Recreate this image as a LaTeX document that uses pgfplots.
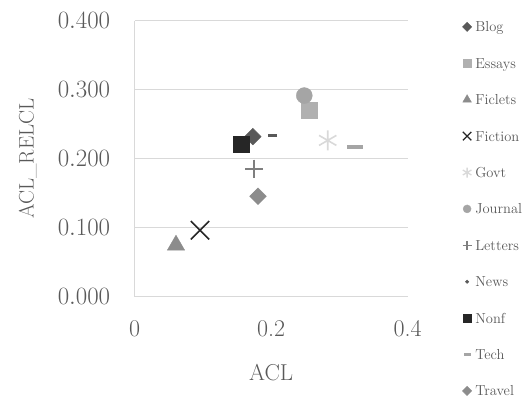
\documentclass[border=0pt]{standalone}
\usepackage{pgfplots}
\pgfplotsset{compat=1.18}

\definecolor{txt}{HTML}{595959}
\definecolor{gridc}{HTML}{D9D9D9}
\definecolor{cBlog}{HTML}{595959}
\definecolor{cEssays}{HTML}{B0B0B0}
\definecolor{cFiclets}{HTML}{8C8C8C}
\definecolor{cFiction}{HTML}{262626}
\definecolor{cGovt}{HTML}{D9D9D9}
\definecolor{cJournal}{HTML}{A5A5A5}
\definecolor{cLetters}{HTML}{7F7F7F}
\definecolor{cNews}{HTML}{595959}
\definecolor{cNonf}{HTML}{262626}
\definecolor{cTech}{HTML}{A5A5A5}
\definecolor{cTravel}{HTML}{8C8C8C}

\begin{document}
\begin{tikzpicture}
\path[use as bounding box] (-134.7pt,-106.3pt) rectangle (394.3pt,296.7pt);
\begin{axis}[
  at={(0,0)}, anchor=south west,
  scale only axis, width=273pt, height=276pt,
  xmin=0, xmax=0.4, ymin=0, ymax=0.4,
  xtick={0,0.2,0.4}, ytick={0,0.1,0.2,0.3,0.4},
  xticklabels={0,0.2,0.4},
  yticklabel style={/pgf/number format/fixed, /pgf/number format/fixed zerofill, /pgf/number format/precision=3},
  axis x line*=bottom, axis y line*=left,
  axis line style={gridc, line width=1pt, -},
  ymajorgrids, major grid style={gridc, line width=1pt},
  major tick length=0pt,
  tick label style={font=\fontsize{24}{26}\selectfont, text=txt},
  xticklabel style={yshift=-20pt},
  yticklabel style={xshift=-21pt},
  label style={text=txt},
  xlabel={ACL},
  xlabel style={font=\fontsize{23}{26}\selectfont, at={(axis description cs:0.5,0)}, anchor=center, yshift=-76pt},
  ylabel={ACL\_RELCL},
  ylabel style={font=\fontsize{21}{24}\selectfont, at={(axis description cs:-0.392,0.5)}, anchor=center},
  legend style={at={(1,1)}, anchor=north west, xshift=53pt, yshift=0pt,
    draw=none, fill=none, inner sep=0pt, row sep=21.4pt,
    font=\fontsize{14.5}{16}\selectfont, text=txt,
    nodes={text height=10pt, text depth=3pt, inner sep=1pt}},
  legend cell align=left,
  legend image code/.code={%
    \path (0pt,0pt) (13pt,0pt);
    \draw[mark repeat=2,mark phase=2,#1] plot coordinates {(0pt,1.5pt)(6pt,1.5pt)(13pt,1.5pt)};},
  clip=false,
]
% data points
\addplot[only marks, forget plot, mark=square*, mark options={rotate=45, fill=cBlog, draw=cBlog}, mark size=5.9pt] coordinates {(0.173,0.232)};
\addplot[only marks, forget plot, mark=square*, mark options={fill=cEssays, draw=cEssays}, mark size=8pt] coordinates {(0.255,0.271)};
\addplot[only marks, forget plot, mark=triangle*, mark options={fill=cFiclets, draw=cFiclets}, mark size=10pt] coordinates {(0.0605,0.0747)};
\addplot[only marks, forget plot, mark=x, mark options={draw=cFiction, line width=1.6pt}, mark size=13pt] coordinates {(0.0957,0.0964)};
\addplot[only marks, forget plot, mark=asterisk, mark options={draw=cGovt, line width=1.6pt}, mark size=10pt] coordinates {(0.2828,0.2265)};
\addplot[only marks, forget plot, mark=*, mark options={fill=cJournal, draw=cJournal}, mark size=8pt] coordinates {(0.2485,0.2915)};
\addplot[only marks, forget plot, mark=+, mark options={draw=cLetters, line width=1.6pt}, mark size=9pt] coordinates {(0.1748,0.1855)};
\addplot[only marks, forget plot, mark=-, mark options={draw=cNews, line width=3.5pt}, mark size=4.3pt] coordinates {(0.2022,0.2337)};
\addplot[only marks, forget plot, mark=square*, mark options={fill=cNonf, draw=cNonf}, mark size=8pt] coordinates {(0.1558,0.2217)};
\addplot[only marks, forget plot, mark=-, mark options={draw=cTech, line width=3.5pt}, mark size=7.8pt] coordinates {(0.3228,0.2168)};
\addplot[only marks, forget plot, mark=square*, mark options={rotate=45, fill=cTravel, draw=cTravel}, mark size=5.9pt] coordinates {(0.1807,0.1455)};
% legend keys
\addlegendimage{only marks, mark=square*, mark options={rotate=45, fill=cBlog, draw=cBlog}, mark size=3.3pt}
\addlegendentry{Blog}
\addlegendimage{only marks, mark=square*, mark options={fill=cEssays, draw=cEssays}, mark size=4pt}
\addlegendentry{Essays}
\addlegendimage{only marks, mark=triangle*, mark options={fill=cFiclets, draw=cFiclets}, mark size=5pt}
\addlegendentry{Ficlets}
\addlegendimage{only marks, mark=x, mark options={draw=cFiction, line width=1.3pt}, mark size=6pt}
\addlegendentry{Fiction}
\addlegendimage{only marks, mark=asterisk, mark options={draw=cGovt, line width=1.3pt}, mark size=5pt}
\addlegendentry{Govt}
\addlegendimage{only marks, mark=*, mark options={fill=cJournal, draw=cJournal}, mark size=4pt}
\addlegendentry{Journal}
\addlegendimage{only marks, mark=+, mark options={draw=cLetters, line width=1.3pt}, mark size=4.5pt}
\addlegendentry{Letters}
\addlegendimage{only marks, mark=*, mark options={fill=cNews, draw=cNews}, mark size=1.7pt}
\addlegendentry{News}
\addlegendimage{only marks, mark=square*, mark options={fill=cNonf, draw=cNonf}, mark size=4pt}
\addlegendentry{Nonf}
\addlegendimage{only marks, mark=-, mark options={draw=cTech, line width=2.5pt}, mark size=3.5pt}
\addlegendentry{Tech}
\addlegendimage{only marks, mark=square*, mark options={rotate=45, fill=cTravel, draw=cTravel}, mark size=3.3pt}
\addlegendentry{Travel}
\end{axis}
\end{tikzpicture}
\end{document}
